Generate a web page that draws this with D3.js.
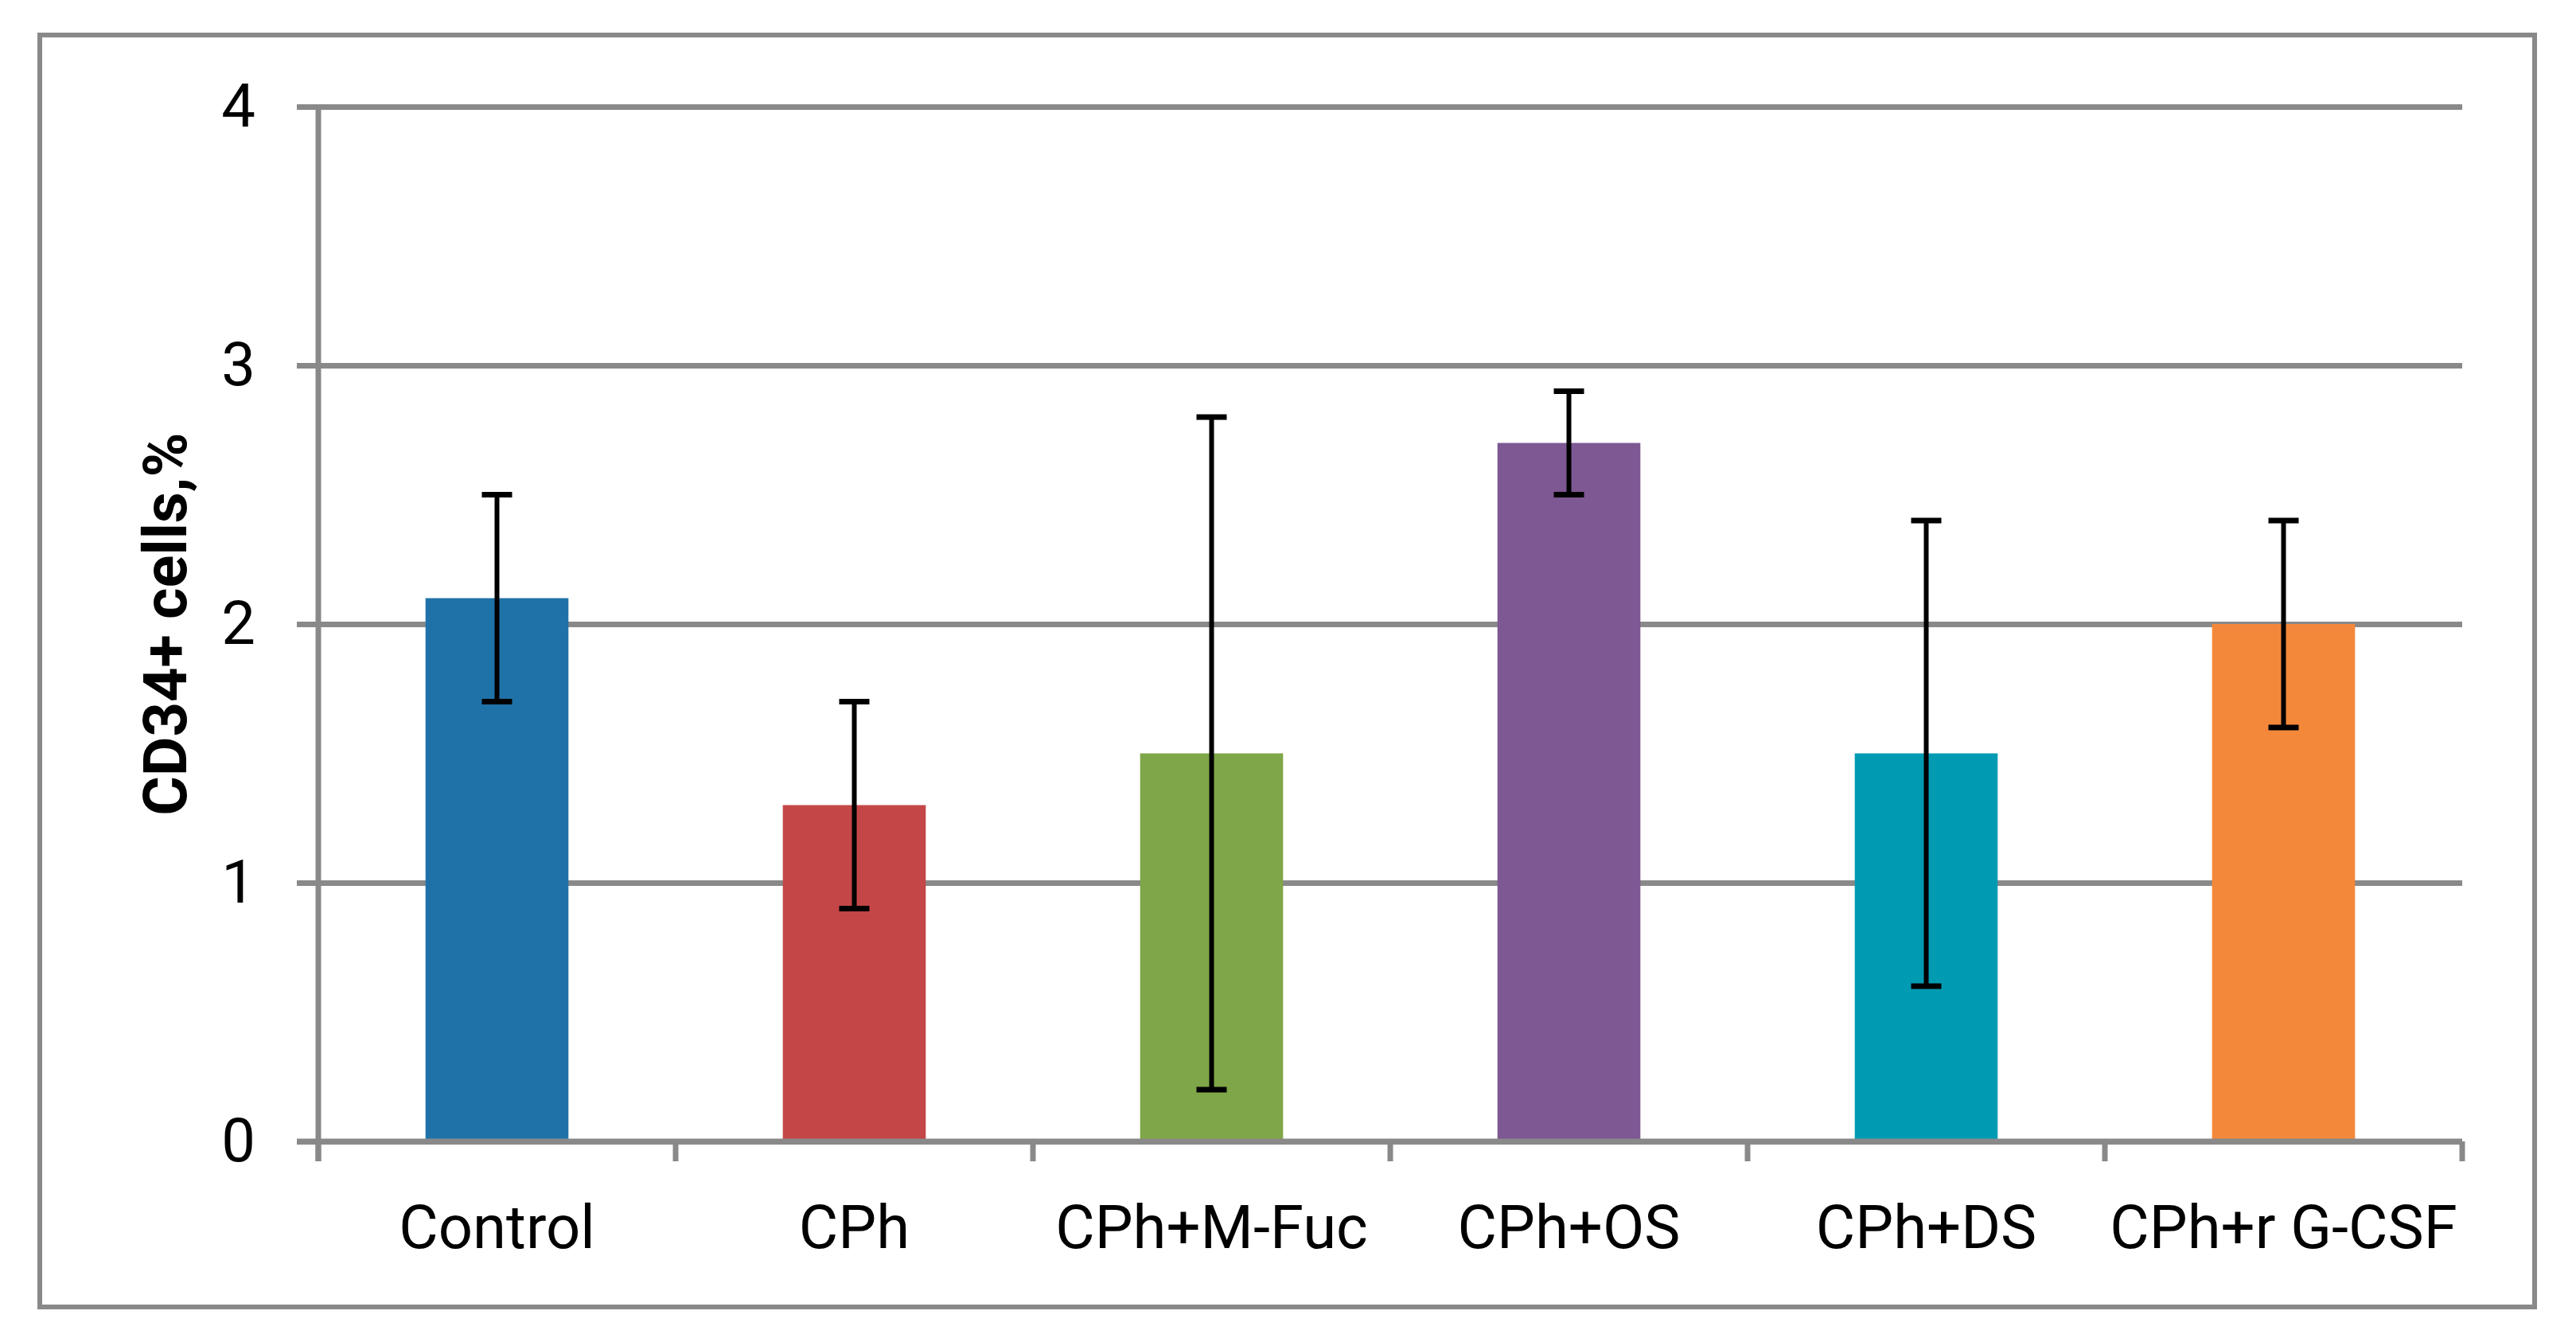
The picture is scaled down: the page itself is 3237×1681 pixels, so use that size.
<!DOCTYPE html>
<html>
<head>
<meta charset="utf-8">
<script src="https://cdn.jsdelivr.net/npm/d3@7"></script>
<style>
    html, body { margin: 0; padding: 0; background: #fff; }
    svg { display: block; }
    text { font-family: Roboto, "Open Sans", sans-serif; fill: #000; }
</style>
</head>
<body>
<svg id="chart"></svg>
<script>
"use strict";

// 数据
var categories = ["Control", "CPh", "CPh+M-Fuc", "CPh+OS", "CPh+DS", "CPh+r G-CSF"];
var values = [2.1, 1.3, 1.5, 2.7, 1.5, 2.0];
var errors = [0.4, 0.4, 1.3, 0.2, 0.9, 0.4];
var colors = ["#1f72a8", "#c44646", "#7fa648", "#7d5893", "#009bb3", "#f4883a"];
var yTicks = [0, 1, 2, 3, 4];
var yLabel = "CD34+ cells,%";

var W = 3237, H = 1681;
var margin = {left: 400, right: 143, top: 134, bottom: 247};
var gridColor = "#898989";

var svg = d3.select("#chart").attr("width", W).attr("height", H);

// 外框
svg.append("rect")
    .attr("x", 50).attr("y", 44)
    .attr("width", 3185 - 50).attr("height", 1642 - 44)
    .attr("fill", "none")
    .attr("stroke", gridColor)
    .attr("stroke-width", 6);

var g = svg.append("g").attr("transform", "translate(" + margin.left + "," + margin.top + ")");
var innerW = W - margin.left - margin.right;
var innerH = H - margin.top - margin.bottom;

var x = d3.scaleBand().domain(categories).range([0, innerW]).paddingInner(0.6).paddingOuter(0.3);
var y = d3.scaleLinear().domain([0, 4]).range([innerH, 0]);

//网格线 + y轴
var yAxis = g.append("g")
    .call(d3.axisLeft(y).tickValues(yTicks).tickSize(-innerW - 27).tickPadding(52).tickFormat(d3.format("d")))
    .attr("transform", "translate(" + 0 + ",0)");
yAxis.select(".domain").remove();
yAxis.selectAll(".tick line")
    .attr("x1", -27).attr("x2", innerW)
    .attr("stroke", gridColor).attr("stroke-width", 7);
yAxis.selectAll(".tick text")
    .attr("x", -79)
    .style("font-size", "76px")
    .style("font-family", "Roboto, sans-serif")
    .attr("fill", "#000");

// 左侧竖轴
g.append("line")
    .attr("x1", 0).attr("x2", 0)
    .attr("y1", 0).attr("y2", innerH + 25)
    .attr("stroke", gridColor).attr("stroke-width", 7);

// x轴刻度 (类别分界)
var step = x.step();
var bounds = d3.range(categories.length + 1);
g.selectAll(".xTick")
    .data(bounds)
    .enter()
    .append("line")
    .attr("class", "xTick")
    .attr("x1", function(d){ return d * innerW / categories.length; })
    .attr("x2", function(d){ return d * innerW / categories.length; })
    .attr("y1", innerH).attr("y2", innerH + 25)
    .attr("stroke", gridColor).attr("stroke-width", 7);

// 柱子
g.selectAll(".bar")
    .data(values)
    .enter()
    .append("rect")
    .attr("class", "bar")
    .attr("x", function(d, i){ return x(categories[i]); })
    .attr("width", x.bandwidth())
    .attr("y", function(d){ return y(d); })
    .attr("height", function(d){ return y(0) - y(d); })
    .attr("fill", function(d, i){ return colors[i]; });

// 底部轴线（盖在柱子上方）
g.append("line")
    .attr("x1", -27).attr("x2", innerW)
    .attr("y1", innerH).attr("y2", innerH)
    .attr("stroke", gridColor).attr("stroke-width", 7);

// 误差线
var capW = 38;
var eb = g.selectAll(".err")
    .data(values)
    .enter()
    .append("g")
    .attr("class", "err")
    .attr("transform", function(d, i){ return "translate(" + (x(categories[i]) + x.bandwidth() / 2) + ",0)"; });
eb.append("line")
    .attr("x1", 0).attr("x2", 0)
    .attr("y1", function(d, i){ return y(d + errors[i]); })
    .attr("y2", function(d, i){ return y(d - errors[i]); })
    .attr("stroke", "#000").attr("stroke-width", 6);
eb.append("line")
    .attr("x1", -capW / 2).attr("x2", capW / 2)
    .attr("y1", function(d, i){ return y(d + errors[i]); })
    .attr("y2", function(d, i){ return y(d + errors[i]); })
    .attr("stroke", "#000").attr("stroke-width", 7);
eb.append("line")
    .attr("x1", -capW / 2).attr("x2", capW / 2)
    .attr("y1", function(d, i){ return y(d - errors[i]); })
    .attr("y2", function(d, i){ return y(d - errors[i]); })
    .attr("stroke", "#000").attr("stroke-width", 7);

// 类别标签
g.selectAll(".catLabel")
    .data(categories)
    .enter()
    .append("text")
    .attr("class", "catLabel")
    .attr("x", function(d){ return x(d) + x.bandwidth() / 2; })
    .attr("y", innerH + 134)
    .attr("text-anchor", "middle")
    .style("font-size", "76px")
    .text(function(d){ return d; });

// y轴标题
svg.append("text")
    .attr("transform", "translate(234," + (margin.top + innerH / 2) + ") rotate(-90)")
    .attr("text-anchor", "middle")
    .style("font-size", "76px")
    .style("font-weight", "bold")
    .text(yLabel);
</script>
</body>
</html>
